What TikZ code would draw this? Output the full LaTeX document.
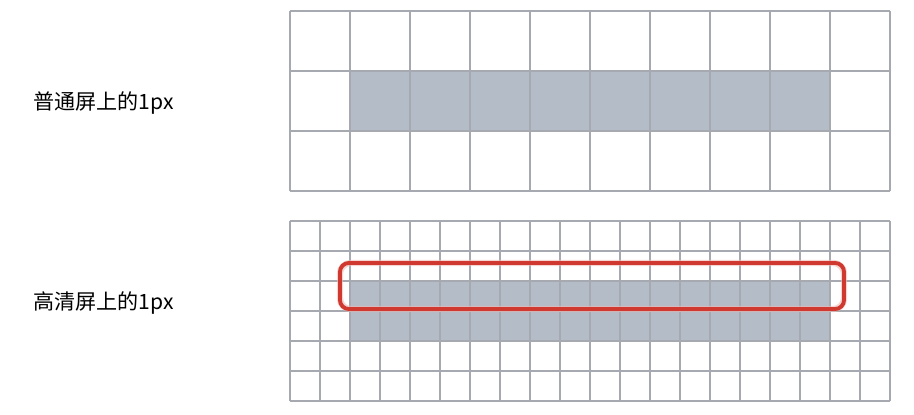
\documentclass[tikz,border=0pt]{standalone}
\usepackage{fontspec}
\setmainfont{Noto Sans CJK SC}
\definecolor{Grid}{HTML}{A6A9B0}
\definecolor{Pixel}{HTML}{B4BCC8}
\definecolor{Mark}{HTML}{D0392F}

\begin{document}
\begin{tikzpicture}[x=0.02cm,y=-0.02cm,
    gridline/.style={draw=Grid,line width=0.6pt},
    pixel/.style={fill=Pixel},
    label/.style={anchor=base west,inner sep=0pt,font=\fontsize{12}{14}\selectfont},
    markbox/.style={draw=Mark,line width=2.2pt,rounded corners=5pt},
    glowbox/.style={draw=Mark!35,line width=3.6pt,rounded corners=6pt,opacity=0.6}]
    \useasboundingbox (0,0) rectangle (914,415);
    % normal screen: one device pixel per css pixel
    \fill[pixel] (350,71) rectangle (830,131);
    \foreach \x in {0,...,10} \draw[gridline] (290+60*\x,11) -- (290+60*\x,191);
    \foreach \y in {0,...,3} \draw[gridline] (290,11+60*\y) -- (890,11+60*\y);
    \node[label] (normal) at (33,110) {普通屏上的1px};
    % retina screen: two device pixels per css pixel
    \fill[pixel] (350,281) rectangle (830,341);
    \foreach \x in {0,...,20} \draw[gridline] (290+30*\x,221) -- (290+30*\x,401);
    \foreach \y in {0,...,6} \draw[gridline] (290,221+30*\y) -- (890,221+30*\y);
    \node[label] (retina) at (33,310) {高清屏上的1px};
    \draw[glowbox] (340,263) rectangle (844,309);
    \draw[markbox] (340,263) rectangle (844,309);
  \end{tikzpicture}
\end{document}
